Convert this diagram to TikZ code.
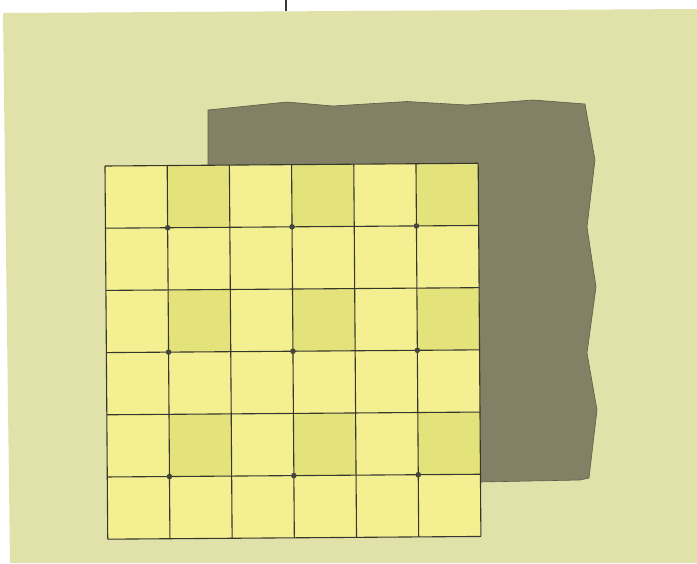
\documentclass[tikz,border=0pt]{standalone}
\definecolor{bgbeige}{RGB}{225,225,170}
\definecolor{shadowgray}{RGB}{130,129,102}
\definecolor{celllight}{RGB}{244,240,145}
\definecolor{celldark}{RGB}{228,226,122}
\definecolor{gridline}{RGB}{55,55,45}
\begin{document}
\begin{tikzpicture}[x=1pt,y=-1pt,
  gridstroke/.style={draw=gridline,line width=1.1pt},
  joint/.style={fill=gridline!80!gray},
  lightcell/.style={fill=celllight},
  darkcell/.style={fill=celldark}]
\fill[white] (0,0) rectangle (697,563);
\useasboundingbox (0,0) rectangle (697,563);
% background sheet
\fill[bgbeige] (3,13) -- (697,9) -- (697,563) -- (10,563) -- cycle;
% top mark
\draw[line width=1.1pt,gridline] (286,0) -- (286,11);
% grey shadow sheet
\filldraw[fill=shadowgray,draw=shadowgray!70!black,line width=0.6pt]
  (208,110) -- (287,102) -- (333,106) -- (407,101.5) -- (467,105) -- (533,100)
  -- (585,104) -- (595,160) -- (587,227) -- (596,287) -- (587,353) -- (597,410)
  -- (589,478) -- (580,480) -- (480,482) -- (208,482) -- cycle;
% grid
\begin{scope}[shift={(105,166)},rotate=0.42]
  \def\cs{62.2}
  \foreach \r in {0,...,5}{
    \foreach \c in {0,...,5}{
      \pgfmathtruncatemacro{\isdark}{(mod(\r,2)==0 && mod(\c,2)==1) ? 1 : 0}
      \ifnum\isdark=1
        \fill[darkcell] (\c*\cs,\r*\cs) rectangle ++(\cs,\cs);
      \else
        \fill[lightcell] (\c*\cs,\r*\cs) rectangle ++(\cs,\cs);
      \fi
    }
  }
  \foreach \i in {0,...,6}{
    \draw[gridstroke] (\i*\cs,0) -- (\i*\cs,6*\cs);
    \draw[gridstroke] (0,\i*\cs) -- (6*\cs,\i*\cs);
  }
  \foreach \r in {1,3,5}{
    \foreach \c in {1,3,5}{
      \fill[joint] (\c*\cs,\r*\cs) circle (2.8);
    }
  }
\end{scope}
\end{tikzpicture}
\end{document}
